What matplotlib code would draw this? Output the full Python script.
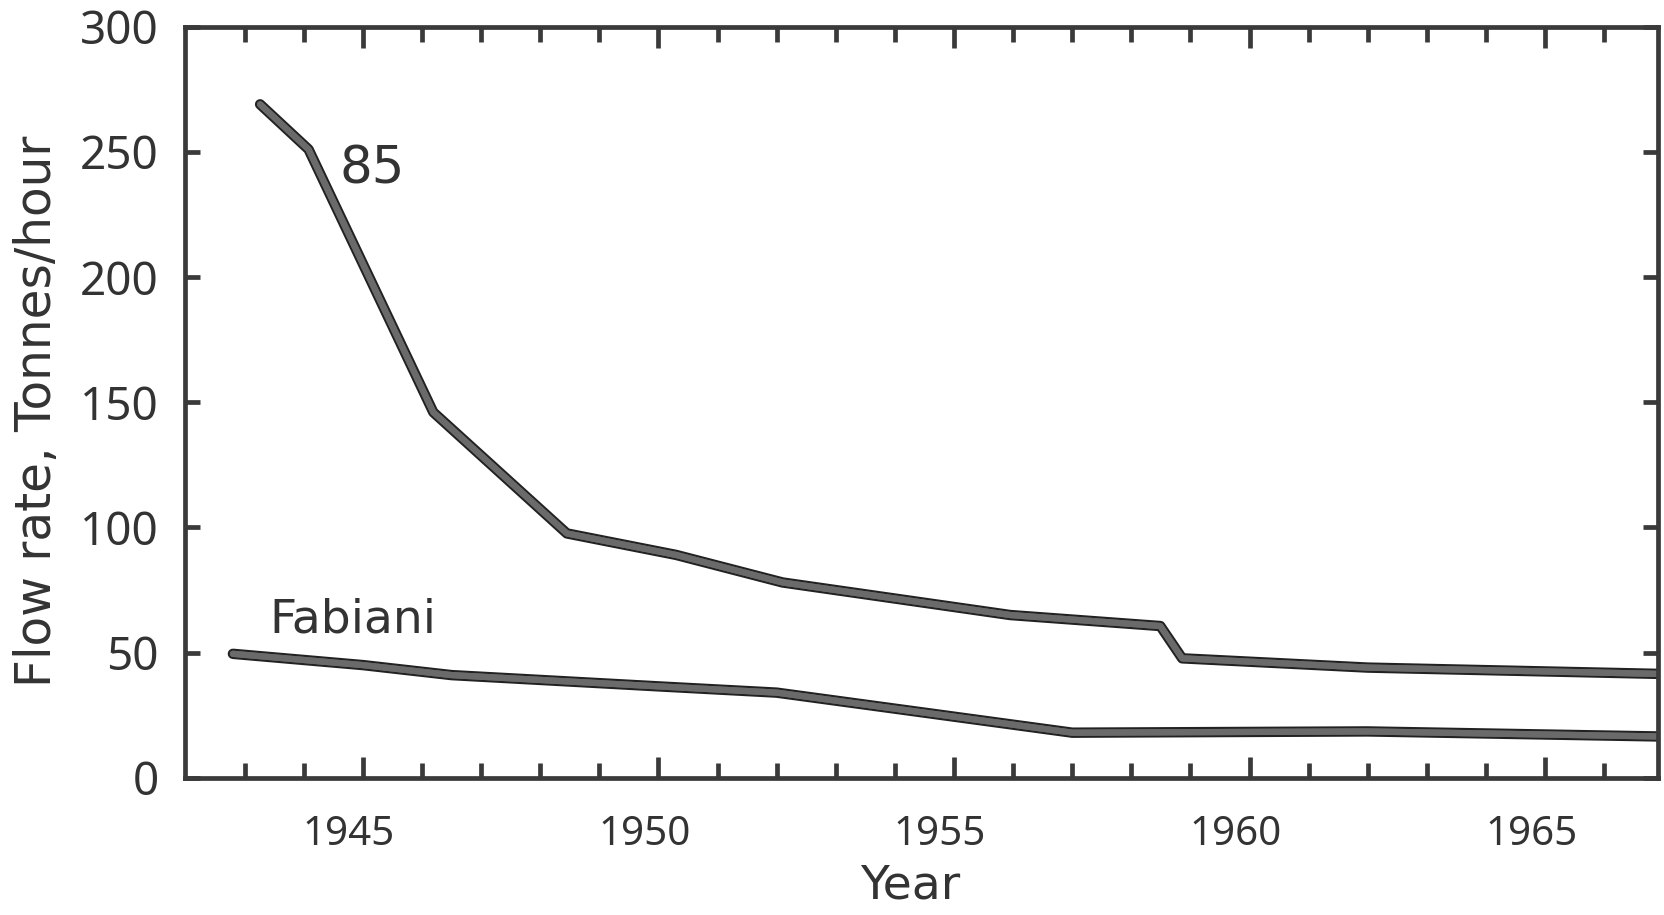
import matplotlib
matplotlib.use("Agg")
import matplotlib.pyplot as plt
import matplotlib.patheffects as pe
import matplotlib.transforms as mtrans
import numpy as np

# values
yr_85 = [1943.26, 1944.08, 1946.19, 1948.45, 1950.3, 1952.1, 1955.95, 1958.49, 1958.86, 1962.0, 1966.9]
flow_85 = [269, 251, 146, 97.6, 89, 78, 65, 60.6, 47.7, 44, 41.5]

yr_fab = [1942.8, 1945.0, 1946.5, 1950.0, 1952.0, 1957.0, 1962.0, 1966.9]
flow_fab = [49.5, 45, 41, 36.5, 34, 18, 18.5, 16.5]

xlabels = ['1945', '1950', '1955', '1960', '1965']
xlabel_pos = [1945, 1950, 1955, 1960, 1965]
ylabels = ['0', '50', '100', '150', '200', '250', '300']

ink = '#222222'
fill = '#6a6a6a'
outline = [pe.Stroke(linewidth=7.5, foreground=ink), pe.Stroke(linewidth=4.5, foreground=fill), pe.Normal()]

fig = plt.figure(figsize=(16.64, 9.15), dpi=100)
ax = fig.add_axes([0.1112, 0.150, 0.8852, 0.8208])

ax.plot(yr_85, flow_85, color=fill, linewidth=4.5, solid_capstyle='round',
        solid_joinstyle='round', path_effects=outline)
ax.plot(yr_fab, flow_fab, color=fill, linewidth=4.5, solid_capstyle='round',
        solid_joinstyle='round', path_effects=outline)

ax.set_xlim(1941.99, 1966.91)
ax.set_ylim(0, 300)

for s in ax.spines.values():
    s.set_linewidth(3.4)
    s.set_color('#3a3a3a')

# year ticks (minor), labelled ones a bit longer
ax.set_xticks(xlabel_pos)
ax.set_xticklabels(xlabels)
ax.set_xticks(np.arange(1943, 1967), minor=True)
ax.set_yticks([int(v) for v in ylabels])
ax.set_yticklabels(ylabels)

ax.tick_params(axis='both', which='both', direction='in', top=True, right=True,
               width=3.4, color='#3a3a3a', labelcolor='#333333')
ax.tick_params(axis='x', which='minor', length=11)
ax.tick_params(axis='x', which='major', length=15, pad=27, labelsize=29)
ax.tick_params(axis='y', which='major', length=11, pad=19, labelsize=33)
for lab in ax.get_xticklabels() + ax.get_yticklabels():
    lab.set_family('Noto Sans')
    lab.set_stretch('condensed')
# labels sit a little left of their ticks in the original
off = mtrans.ScaledTranslation(-14 / 100, 0, fig.dpi_scale_trans)
for lab in ax.get_xticklabels():
    lab.set_transform(lab.get_transform() + off)

fig.text(0.547, 0.032, 'Year', fontsize=34, color='#333333', ha='center', va='center')
fig.text(0.0225, 0.551, 'Flow rate, Tonnes/hour', fontsize=35, color='#333333',
         ha='center', va='center', rotation=90)

ax.text(1945.16, 243, '85', fontsize=37, color='#333333', ha='center', va='center')
ax.text(1944.83, 63, 'Fabiani', fontsize=34, color='#333333', ha='center', va='center')

fig.savefig('out.png', dpi=100)
